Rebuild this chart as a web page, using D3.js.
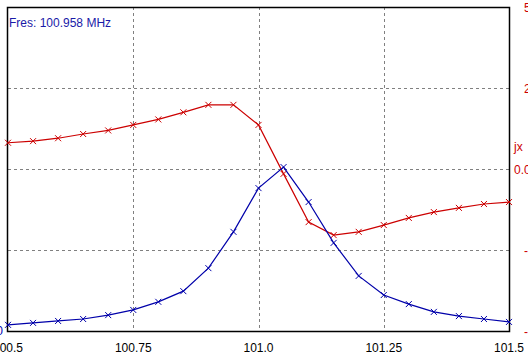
<!DOCTYPE html>
<html>
<head>
<meta charset="utf-8">
<script src="https://cdn.jsdelivr.net/npm/d3@7"></script>
<style>
  html, body { margin: 0; padding: 0; background: #fff; overflow: hidden; }
  text { font-family: Arial, "Liberation Sans", sans-serif; }
</style>
</head>
<body>
<svg id="chart"></svg>
<script>
// frequency points (MHz)
var freqs = [100.5, 100.55, 100.6, 100.65, 100.7, 100.75, 100.8, 100.85, 100.9, 100.95,
             101.0, 101.05, 101.1, 101.15, 101.2, 101.25, 101.3, 101.35, 101.4, 101.45, 101.5];
// magnitude (blue, left axis, hidden)
var magValues = [0.019, 0.025, 0.031, 0.037, 0.049, 0.065, 0.090, 0.123, 0.194, 0.306,
                 0.441, 0.506, 0.398, 0.272, 0.170, 0.111, 0.083, 0.059, 0.046, 0.037, 0.028];
// reactance jx (red, right axis)
var jxValues = [0.81, 0.86, 0.95, 1.08, 1.19, 1.36, 1.53, 1.75, 1.98, 1.98,
                1.36, -0.15, -1.64, -2.04, -1.94, -1.73, -1.51, -1.33, -1.20, -1.08, -1.02];

var xTicks = [100.5, 100.75, 101.0, 101.25, 101.5];
var xTickLabels = ["100.5", "100.75", "101.0", "101.25", "101.5"];
var jxTicks = [5, 2.5, 0, -2.5, -5];
var jxTickLabels = ["5", "2", "0.0", "-2.5", "-5.0"];
var fres = "Fres: 100.958 MHz";

var W = 528, H = 359;
var margin = { top: 7, right: 19, bottom: 28, left: 8 };
var width = W - margin.left - margin.right,
    height = H - margin.top - margin.bottom;

var x = d3.scaleLinear().domain([100.5, 101.5]).range([0, width]);
var yMag = d3.scaleLinear().domain([0, 1]).range([height, 0]);
var yJx = d3.scaleLinear().domain([-5, 5]).range([height, 0]);

var svg = d3.select("#chart")
    .attr("width", W)
    .attr("height", H);

var g = svg.append("g")
    .attr("transform", "translate(" + margin.left + "," + margin.top + ")");

// grid
g.selectAll(".vgrid")
    .data(xTicks.slice(1, -1))
    .enter().append("line")
    .attr("x1", d => Math.round(x(d)) + 0.5)
    .attr("x2", d => Math.round(x(d)) + 0.5)
    .attr("y1", 0).attr("y2", height)
    .attr("stroke", "#808080")
    .attr("stroke-dasharray", "3,3");

g.selectAll(".hgrid")
    .data(jxTicks.slice(1, -1))
    .enter().append("line")
    .attr("y1", d => Math.round(yJx(d)) + 0.5)
    .attr("y2", d => Math.round(yJx(d)) + 0.5)
    .attr("x1", 0).attr("x2", width)
    .attr("stroke", "#808080")
    .attr("stroke-dasharray", "3,3");

// frame
g.append("rect")
    .attr("x", -0.5).attr("y", 0.5)
    .attr("width", width + 1).attr("height", height)
    .attr("fill", "none")
    .attr("stroke", "#000")
    .attr("stroke-width", 1.5);

// x axis labels
g.selectAll(".xlab")
    .data(xTicks)
    .enter().append("text")
    .attr("x", d => x(d))
    .attr("y", height + 21)
    .attr("text-anchor", "middle")
    .attr("font-size", "12px")
    .attr("fill", "#000")
    .text((d, i) => xTickLabels[i]);

// right axis labels (clipped by window)
g.selectAll(".ylab")
    .data(jxTicks)
    .enter().append("text")
    .attr("x", (d, i) => jxTickLabels[i] === "0.0" ? width + 5 : width + 15)
    .attr("y", d => yJx(d) + 5)
    .attr("font-size", "12px")
    .attr("fill", "#cc0000")
    .text((d, i) => jxTickLabels[i]);

g.append("text")
    .attr("x", width + 5)
    .attr("y", yJx(0.72) + 5)
    .attr("font-size", "12px")
    .attr("fill", "#cc0000")
    .text("jx");

// left axis bottom label, mostly off screen
svg.append("text")
    .attr("x", 3)
    .attr("y", margin.top + yMag(0) + 4)
    .attr("text-anchor", "end")
    .attr("font-size", "12px")
    .attr("fill", "#0000b0")
    .text("0");

function drawSeries(vals, yScale, color) {
    var pts = freqs.map((f, i) => [x(f), yScale(vals[i])]);
    g.append("path")
        .attr("d", d3.line()(pts))
        .attr("fill", "none")
        .attr("stroke", color)
        .attr("stroke-width", 1.2);
    var s = 3;
    g.selectAll(null)
        .data(pts)
        .enter().append("path")
        .attr("d", p => "M" + (p[0] - s) + "," + (p[1] - s) + "L" + (p[0] + s) + "," + (p[1] + s) +
                        "M" + (p[0] - s) + "," + (p[1] + s) + "L" + (p[0] + s) + "," + (p[1] - s))
        .attr("stroke", color)
        .attr("stroke-width", 1);
}

drawSeries(jxValues, yJx, "#cc0000");
drawSeries(magValues, yMag, "#0000aa");

g.append("text")
    .attr("x", 1)
    .attr("y", 20)
    .attr("font-size", "12px")
    .attr("fill", "#1a1aa8")
    .text(fres);
</script>
</body>
</html>
